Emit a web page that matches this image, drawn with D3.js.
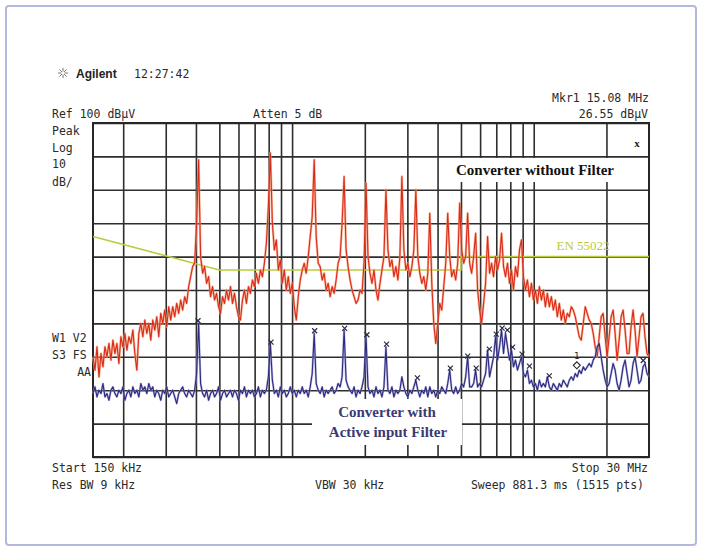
<!DOCTYPE html>
<html><head><meta charset="utf-8">
<script src="https://cdn.jsdelivr.net/npm/d3@7"></script>
<style>body{margin:0;background:#fff}svg{display:block}</style>
</head><body><svg id="c" width="703" height="550"></svg>
<script>
// ---- analyzer settings ----
const sweepStartMHz = 0.15, sweepStopMHz = 30;
const refLevelDb = 100, bottomDb = 0;

// ---- trace: converter without filter (dBµV, log-spaced sweep points) ----
const withoutFilter = [
30,26,33,24,31,27,33,30,34,29,
35,31,34,28,36,33,37,32,36,34,
38,31,26,37,40,36,41,37,40,35,
41,38,42,36,43,40,44,39,45,41,
45,42,46,43,47,44,48,46,51,54,
57,58,70,89,60,55,57,52,54,48,
51,47,49,45,43,48,46,50,47,51,
46,49,45,42,41,47,50,46,51,49,
53,51,55,52,56,54,58,64,75,91,
70,62,65,56,59,52,56,50,54,49,
52,45,41,48,53,56,58,55,60,66,
72,89,66,58,57,53,55,50,52,48,
51,49,53,58,60,70,84,62,57,53,
50,48,46,47,50,49,58,82,60,55,
52,56,50,47,52,56,60,80,62,57,
59,54,57,53,60,84,62,56,58,54,
57,62,80,60,55,52,54,50,55,73,
52,40,34,40,46,44,51,58,73,60,
54,56,53,58,76,62,58,60,73,58,
55,60,67,50,44,40,46,52,66,55,
58,54,60,56,59,67,57,54,58,52,
56,50,57,54,62,65,54,50,53,48,
52,47,50,46,51,47,50,45,49,45,
48,44,47,42,46,41,44,40,43,42,
45,44,42,39,36,35,40,45,43,41,
40,37,33,30,36,42,43,36,30,36,
42,44,37,29,35,42,44,38,31,31,
39,44,38,30,36,42,43,36,31,30];

// ---- trace: converter with active input filter ----
const withFilter = [
19,21,18,20,19,22,18,19,17,20,
21,19,18,20,19,21,17,19,20,18,
21,19,20,18,22,20,21,19,22,20,
21,18,20,19,17,20,19,21,18,19,
20,18,16,19,20,21,19,18,20,19,
18,20,25,40,22,19,18,20,17,19,
20,18,19,21,17,19,20,18,19,20,
18,20,19,17,20,19,21,18,20,19,
20,18,19,21,18,20,19,20,24,34,
23,19,20,18,21,19,20,18,19,21,
19,20,18,20,19,21,19,20,18,21,
25,37,22,20,19,21,18,20,19,20,
21,19,20,22,21,24,38,23,21,20,
19,21,18,20,19,21,24,36,21,19,
20,18,21,19,20,18,21,33,20,19,
21,18,20,19,20,24,21,19,18,20,
19,21,23,20,18,20,19,21,18,21,
19,20,18,20,19,21,20,19,22,26,
20,19,21,19,20,22,21,24,30,21,
21,22,26,21,22,21,23,25,32,24,
27,30,36,29,33,38,31,37,33,29,
32,27,29,26,28,30,25,24,26,22,
23,21,22,20,23,21,22,21,24,21,
20,22,21,20,22,21,23,22,21,23,
24,23,25,24,26,25,27,26,27,28,
27,29,30,33,34,30,26,23,21,22,
25,28,26,22,20,23,27,29,25,21,
23,28,30,26,22,23,27,28,25,24];

// ---- EN 55022 limit ----
const limitFreq = [0.15, 0.5, 5, 5, 30];
const limitDb   = [66, 56, 56, 60, 60];

// ---- peak markers (x) on filtered trace ----
const peakFreq = [0.408,0.818,1.24,1.65,2.04,2.46,3.30,4.52,5.33,5.78,6.55,7.0,7.40,7.78,8.18,8.95,9.6,11.6,28.4];
const peakDb   = [40.5,34.1,37.5,38.2,36.3,33.5,23.4,26.3,29.9,26.3,32.0,36.5,38.3,37.7,32.6,30.5,26.9,24.0,28.6];

// ---- marker 1 ----
const mkrFreq = [15.08];
const mkrDb = [26.55];

// ---- layout ----
const L = 93, T = 123, W = 556, H = 334;
const svg = d3.select('#c');
const x = d3.scaleLog().domain([sweepStartMHz, sweepStopMHz]).range([L, L + W]);
const y = d3.scaleLinear().domain([bottomDb, refLevelDb]).range([T + H, T]);

const sweepFreq = (n) => d3.range(n).map(i => sweepStartMHz * Math.pow(sweepStopMHz / sweepStartMHz, i / (n - 1)));

// outer frame
svg.append('rect').attr('x', 6).attr('y', 6).attr('width', 690).attr('height', 539)
  .attr('rx', 3).attr('fill', '#fff').attr('stroke', '#b4b8de').attr('stroke-width', 2);

// grid via axes
const gx = svg.append('g').attr('transform', `translate(0,${T + H})`)
  .call(d3.axisBottom(x).tickValues(x.ticks().filter(t => t > sweepStartMHz && t < sweepStopMHz)).tickSize(-H).tickFormat(''));
gx.select('.domain').remove();
gx.selectAll('line').attr('stroke', '#2e2e2e').attr('stroke-width', 1.6);
const gy = svg.append('g').attr('transform', `translate(${L},0)`)
  .call(d3.axisLeft(y).ticks(10).tickSize(-W).tickFormat(''));
gy.select('.domain').remove();
gy.selectAll('line').attr('stroke', '#2e2e2e').attr('stroke-width', 1.6);
svg.append('rect').attr('x', L).attr('y', T).attr('width', W).attr('height', H)
  .attr('fill', 'none').attr('stroke', '#262626').attr('stroke-width', 2);

// label boxes (white background over grid)
svg.append('rect').attr('x', 444).attr('y', 158).attr('width', 183).attr('height', 24).attr('fill', '#fff');
svg.append('rect').attr('x', 312).attr('y', 399).attr('width', 150).attr('height', 46).attr('fill', '#fff');

const line = d3.line().x(d => x(d[0])).y(d => y(d[1]));
const rf = sweepFreq(withoutFilter.length);
const redPts = withoutFilter.map((v, i) => [rf[i], v]);
const bf = sweepFreq(withFilter.length);
const bluePts = withFilter.map((v, i) => [bf[i], v]);

// limit line
svg.append('path').datum(limitFreq.map((f, i) => [f, limitDb[i]])).attr('d', line)
  .attr('fill', 'none').attr('stroke', '#bccb3c').attr('stroke-width', 1.6);

// red trace
svg.append('path').datum(redPts).attr('d', line).attr('fill', 'none')
  .attr('stroke', '#f5a07a').attr('stroke-width', 2.4).attr('opacity', 0.75).attr('stroke-linejoin', 'round');
svg.append('path').datum(redPts).attr('d', line).attr('fill', 'none')
  .attr('stroke', '#da2a1a').attr('stroke-width', 1.1).attr('stroke-linejoin', 'round');

// blue trace
svg.append('path').datum(bluePts).attr('d', line).attr('fill', 'none')
  .attr('stroke', '#9a98d4').attr('stroke-width', 2.2).attr('opacity', 0.7).attr('stroke-linejoin', 'round');
svg.append('path').datum(bluePts).attr('d', line).attr('fill', 'none')
  .attr('stroke', '#2d2a7c').attr('stroke-width', 1.1).attr('stroke-linejoin', 'round');

// peak markers
const pm = svg.append('g').attr('stroke', '#2a2a40').attr('stroke-width', 1.2);
peakFreq.forEach((f, i) => {
  const cx = x(f), cy = y(peakDb[i]) - 1, s = 2.5;
  pm.append('path').attr('d', `M${cx - s},${cy - s}L${cx + s},${cy + s}M${cx + s},${cy - s}L${cx - s},${cy + s}`);
});

// marker 1 diamond
mkrFreq.forEach((f, i) => {
  const cx = x(f), cy = y(mkrDb[i]) - 3, s = 3.5;
  svg.append('path').attr('d', `M${cx},${cy - s}L${cx + s},${cy}L${cx},${cy + s}L${cx - s},${cy}Z`)
    .attr('fill', 'none').attr('stroke', '#222').attr('stroke-width', 1.1);
  svg.append('text').attr('x', cx).attr('y', cy - 6).attr('text-anchor', 'middle')
    .attr('font-family', 'DejaVu Sans Mono').attr('font-size', 9).attr('fill', '#222').text('1');
});

// analyzer texts
const mono = (t, xx, yy, anchor = 'start') => svg.append('text').attr('x', xx).attr('y', yy)
  .attr('text-anchor', anchor).attr('font-family', 'DejaVu Sans Mono').attr('font-size', 11.5)
  .attr('fill', '#2a2a2a').text(t);

// logo
const lg = svg.append('g').attr('stroke', '#777').attr('stroke-width', 1);
d3.range(8).forEach(k => {
  const a = k * Math.PI / 4, r1 = 1.5, r2 = 5;
  lg.append('line').attr('x1', 63 + r1 * Math.cos(a)).attr('y1', 73 + r1 * Math.sin(a))
    .attr('x2', 63 + r2 * Math.cos(a)).attr('y2', 73 + r2 * Math.sin(a));
});
svg.append('text').attr('x', 76).attr('y', 77.5).attr('font-family', 'Liberation Sans, Arial').attr('font-weight', 'bold')
  .attr('font-size', 12).attr('fill', '#222').text('Agilent');
mono('12:27:42', 134, 77.5);

mono('Mkr1  15.08 MHz', 649, 101.5, 'end');
mono('Ref 100 dBµV', 52, 117.5);
mono('Atten 5 dB', 253, 117.5);
mono('26.55 dBµV', 648, 117.5, 'end');
mono('Peak', 52, 135);
mono('Log', 52, 151.5);
mono('10', 52, 168);
mono('dB/', 52, 185.5);
mono('W1  V2', 52, 342);
mono('S3  FS', 52, 359);
mono('AA', 91, 376, 'end');
mono('Start 150 kHz', 52, 472);
mono('Stop 30 MHz', 648, 472, 'end');
mono('Res BW 9 kHz', 52, 489);
mono('VBW 30 kHz', 315, 489);
mono('Sweep 881.3 ms (1515 pts)', 644, 489, 'end');

svg.append('text').attr('x', 637).attr('y', 147).attr('text-anchor', 'middle')
  .attr('font-family', 'Liberation Serif').attr('font-weight', 'bold').attr('font-size', 11).attr('fill', '#222').text('x');

// annotations
const serif = (t, xx, yy, col, size = 15, weight = 'bold') => svg.append('text').attr('x', xx).attr('y', yy)
  .attr('text-anchor', 'middle').attr('font-family', 'Liberation Serif, Times New Roman, serif')
  .attr('font-weight', weight).attr('font-size', size).attr('fill', col).text(t);
serif('Converter without Filter', 535, 175, '#111');
serif('EN 55022', 583, 250, '#bccb3c', 13, 'normal');
serif('Converter with', 387, 417, '#3b3a72');
serif('Active input Filter', 388, 437, '#3b3a72');
</script></body></html>
